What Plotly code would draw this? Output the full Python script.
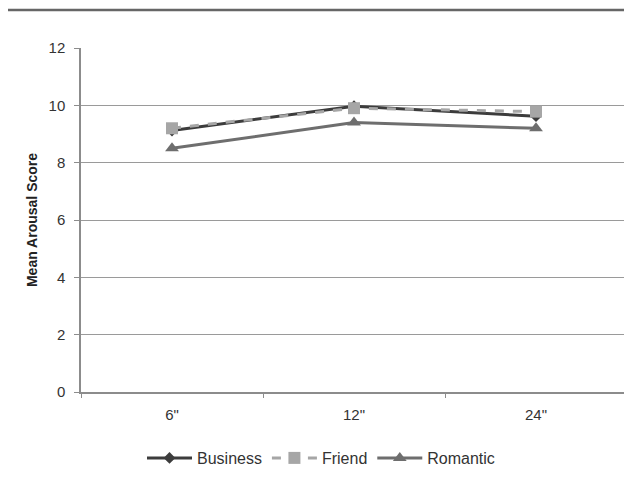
import plotly.graph_objects as go

categories = ['6"', '12"', '24"']
business = [9.12, 9.97, 9.62]
friend = [9.2, 9.9, 9.78]
romantic = [8.5, 9.4, 9.2]
y_ticks = [0, 2, 4, 6, 8, 10, 12]

W, H = 624, 479
L, T, R, B = 73, 40, 5, 95
pw = W - L - R
ph = H - T - B

fig = go.Figure()
fig.add_trace(go.Scatter(x=categories, y=business, name="Business", mode="lines+markers",
                         line=dict(color="#3c3c3c", width=3),
                         marker=dict(symbol="diamond", size=9, color="#3c3c3c")))
fig.add_trace(go.Scatter(x=categories, y=friend, name="Friend", mode="lines+markers",
                         line=dict(color="#a6a6a6", width=3, dash="dash"),
                         marker=dict(symbol="square", size=12, color="#a6a6a6")))
fig.add_trace(go.Scatter(x=categories, y=romantic, name="Romantic", mode="lines+markers",
                         line=dict(color="#6e6e6e", width=3),
                         marker=dict(symbol="triangle-up", size=12, color="#6e6e6e")))

fig.update_layout(
    width=W, height=H,
    margin=dict(l=L, r=R, t=T, b=B),
    paper_bgcolor="white", plot_bgcolor="white",
    font=dict(family="Liberation Sans, Arial, sans-serif", size=15, color="#333"),
    showlegend=True,
    legend=dict(orientation="h", x=(321 - 8 - L) / pw, xanchor="center",
                y=(384 - 450) / ph, yanchor="middle",
                font=dict(size=16, color="#333"), itemwidth=45, tracegroupgap=0),
    xaxis=dict(range=[-0.5, 2.5], showgrid=False, showline=True, linecolor="#8c8c8c", linewidth=1.5,
               ticks="outside", tickson="boundaries", ticklen=4, tickcolor="#8c8c8c",
               ticklabelstandoff=8,
               tickfont=dict(size=15, color="#333")),
    yaxis=dict(range=[0, 12], tickvals=y_ticks, showgrid=True, gridcolor="#9a9a9a", gridwidth=1,
               showline=True, linecolor="#8c8c8c", linewidth=1.5, ticks="outside", ticklen=5,
               tickcolor="#8c8c8c", zeroline=False, ticklabelstandoff=6,
               tickfont=dict(size=15, color="#333"),
               title=dict(text="<b>Mean Arousal Score</b>", font=dict(size=14, color="#222"), standoff=8)),
    shapes=[dict(type="line", xref="paper", yref="paper", x0=(-1 - L) / pw, x1=(W + 2 - L) / pw,
                 y0=(384 - 2) / ph, y1=(384 - 2) / ph, line=dict(color="#666", width=2.5))],
)

fig.write_html("out.html")
